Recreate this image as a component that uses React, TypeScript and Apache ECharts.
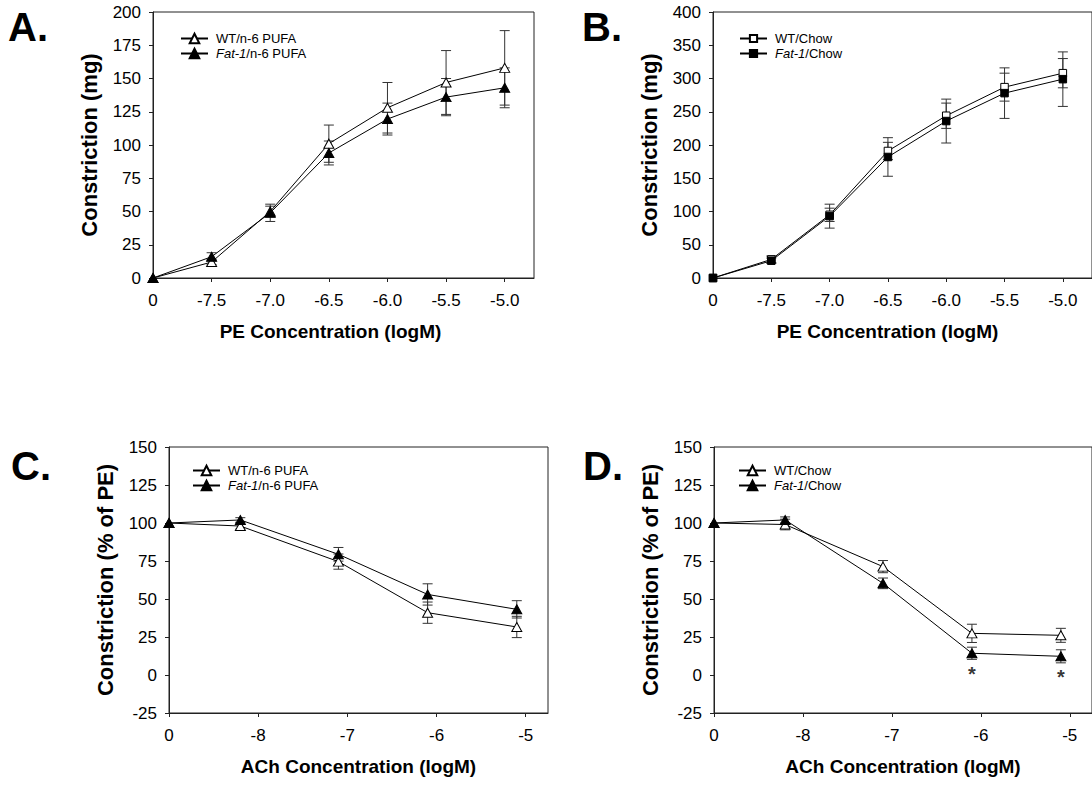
import React, { useEffect, useRef } from "react";
import * as echarts from "echarts";

// Dose positions on the log axes; the leftmost position is the zero-dose point.
const peX = [-8, -7.5, -7, -6.5, -6, -5.5, -5];
const peTickLabels = ["0", "-7.5", "-7.0", "-6.5", "-6.0", "-5.5", "-5.0"];
const achX = [-9, -8.2, -7.1, -6.1, -5.1];
const achTicks = [-9, -8, -7, -6, -5];
const achTickLabels = ["0", "-8", "-7", "-6", "-5"];

// A: PE, n-6 PUFA diet (mg)
const aWtMean = [0, 12, 50, 101, 128, 147, 158];
const aWtErr = [0, 2, 4, 14, 19, 24, 28];
const aFatMean = [0, 16, 49, 94, 119.5, 136, 143];
const aFatErr = [0, 3, 6.5, 9, 12, 14, 15];

// B: PE, chow diet (mg)
const bWtMean = [0, 28, 95, 191, 244, 287, 308];
const bWtErr = [0, 5, 10, 13, 19, 21, 22];
const bFatMean = [0, 26, 93, 182, 236, 278, 299];
const bFatErr = [0, 4, 18, 29, 33, 38, 41];

// C: ACh, n-6 PUFA diet (% of PE)
const cWtMean = [100, 98, 74.6, 41, 31.6];
const cWtErr = [0, 2, 5, 7, 7];
const cFatMean = [100, 102, 79.4, 53, 43.2];
const cFatErr = [0, 1.5, 4.5, 7, 5.7];

// D: ACh, chow diet (% of PE)
const dWtMean = [100, 99, 71.3, 27.4, 26.1];
const dWtErr = [0, 3.5, 4, 6, 4.6];
const dFatMean = [100, 102, 60.3, 14.3, 12.3];
const dFatErr = [0, 2, 3.5, 4, 4.3];
const dSignificant = [3, 4];

const FONT = '"Liberation Sans", Arial, Helvetica, sans-serif';
const AXIS_COLOR = "#222";
const ERR_COLOR = "#333";

type Panel = {
  key: string;
  grid: { left: number; top: number; width: number; height: number };
  x: number[];
  xMin: number;
  xMax: number;
  xInterval: number;
  xTicks: number[];
  xTickLabels: string[];
  yMin: number;
  yMax: number;
  yInterval: number;
  xName: string;
  xNameShift: number;
  yName: string;
  wtName: string;
  fatName: string;
  symbol: string;
  symbolSize: number | number[];
  legendIcon: number;
  wt: number[];
  wtErr: number[];
  fat: number[];
  fatErr: number[];
  legendLeft: number;
  legendTop: number;
};

const panels: Panel[] = [
  {
    key: "A",
    grid: { left: 153, top: 12, width: 381, height: 266 },
    x: peX,
    xMin: -8,
    xMax: -4.75,
    xInterval: 0.5,
    xTicks: peX,
    xTickLabels: peTickLabels,
    yMin: 0,
    yMax: 200,
    yInterval: 25,
    xName: "PE Concentration (logM)",
    xNameShift: 26,
    yName: "Constriction (mg)",
    wtName: "WT/n-6 PUFA",
    fatName: "Fat-1/n-6 PUFA",
    symbol: "triangle",
    symbolSize: [10, 9],
    legendIcon: 12,
    wt: aWtMean,
    wtErr: aWtErr,
    fat: aFatMean,
    fatErr: aFatErr,
    legendLeft: 180,
    legendTop: 32,
  },
  {
    key: "B",
    grid: { left: 713, top: 12, width: 380, height: 266 },
    x: peX,
    xMin: -8,
    xMax: -4.75,
    xInterval: 0.5,
    xTicks: peX,
    xTickLabels: peTickLabels,
    yMin: 0,
    yMax: 400,
    yInterval: 50,
    xName: "PE Concentration (logM)",
    xNameShift: 30,
    yName: "Constriction (mg)",
    wtName: "WT/Chow",
    fatName: "Fat-1/Chow",
    symbol: "rect",
    symbolSize: 7.5,
    legendIcon: 9,
    wt: bWtMean,
    wtErr: bWtErr,
    fat: bFatMean,
    fatErr: bFatErr,
    legendLeft: 739,
    legendTop: 32,
  },
  {
    key: "C",
    grid: { left: 169, top: 447, width: 379, height: 266 },
    x: achX,
    xMin: -9,
    xMax: -4.75,
    xInterval: 1,
    xTicks: achTicks,
    xTickLabels: achTickLabels,
    yMin: -25,
    yMax: 150,
    yInterval: 25,
    xName: "ACh Concentration (logM)",
    xNameShift: 0,
    yName: "Constriction (% of PE)",
    wtName: "WT/n-6 PUFA",
    fatName: "Fat-1/n-6 PUFA",
    symbol: "triangle",
    symbolSize: [10, 9],
    legendIcon: 12,
    wt: cWtMean,
    wtErr: cWtErr,
    fat: cFatMean,
    fatErr: cFatErr,
    legendLeft: 192,
    legendTop: 464,
  },
  {
    key: "D",
    grid: { left: 714, top: 447, width: 379, height: 266 },
    x: achX,
    xMin: -9,
    xMax: -4.75,
    xInterval: 1,
    xTicks: achTicks,
    xTickLabels: achTickLabels,
    yMin: -25,
    yMax: 150,
    yInterval: 25,
    xName: "ACh Concentration (logM)",
    xNameShift: 0,
    yName: "Constriction (% of PE)",
    wtName: "WT/Chow",
    fatName: "Fat-1/Chow",
    symbol: "triangle",
    symbolSize: [10, 9],
    legendIcon: 12,
    wt: dWtMean,
    wtErr: dWtErr,
    fat: dFatMean,
    fatErr: dFatErr,
    legendLeft: 738,
    legendTop: 464,
  },
];

const letterPos: Record<string, [number, number]> = {
  A: [8, 7],
  B: [582, 7],
  C: [11, 446],
  D: [583, 446],
};

function errorBarSeries(name: string, idx: number, x: number[], mean: number[], err: number[]) {
  return {
    type: "custom",
    name: name + "::err",
    xAxisIndex: idx,
    yAxisIndex: idx,
    z: 1,
    silent: true,
    data: x.map((xv, i) => [xv, mean[i], err[i]]),
    encode: { x: 0, y: 1 },
    renderItem: (_params: any, api: any) => {
      const xv = api.value(0);
      const yv = api.value(1);
      const e = api.value(2);
      if (!e) return { type: "group", children: [] };
      const top = api.coord([xv, yv + e]);
      const bot = api.coord([xv, yv - e]);
      const w = 5;
      const style = { stroke: ERR_COLOR, lineWidth: 1 };
      return {
        type: "group",
        children: [
          { type: "line", shape: { x1: top[0], y1: top[1], x2: bot[0], y2: bot[1] }, style },
          { type: "line", shape: { x1: top[0] - w, y1: top[1], x2: top[0] + w, y2: top[1] }, style },
          { type: "line", shape: { x1: bot[0] - w, y1: bot[1], x2: bot[0] + w, y2: bot[1] }, style },
        ],
      };
    },
  };
}

function lineSeries(name: string, idx: number, p: Panel, mean: number[], open: boolean) {
  return {
    type: "line",
    name,
    xAxisIndex: idx,
    yAxisIndex: idx,
    z: 3,
    data: p.x.map((xv, i) => [xv, mean[i]]),
    symbol: p.symbol,
    symbolSize: p.symbolSize,
    showAllSymbol: true,
    lineStyle: { color: "#000", width: 1 },
    itemStyle: open
      ? { color: "#fff", borderColor: "#000", borderWidth: 1 }
      : { color: "#000", borderColor: "#000", borderWidth: 1 },
    emphasis: { disabled: true },
  };
}

function buildOption() {
  const grid: any[] = [];
  const xAxis: any[] = [];
  const yAxis: any[] = [];
  const series: any[] = [];
  const legend: any[] = [];

  panels.forEach((p, idx) => {
    grid.push({
      ...p.grid,
      show: true,
      borderColor: AXIS_COLOR,
      borderWidth: 1,
      backgroundColor: "transparent",
      containLabel: false,
    });
    xAxis.push({
      type: "value",
      gridIndex: idx,
      min: p.xMin,
      max: p.xMax,
      interval: p.xInterval,
      splitLine: { show: false },
      axisLine: { show: true, onZero: false, lineStyle: { color: AXIS_COLOR, width: 1 } },
      axisTick: {
        show: true,
        inside: false,
        length: 4,
        lineStyle: { color: AXIS_COLOR },
        customValues: p.xTicks,
      },
      axisLabel: {
        show: true,
        margin: 14,
        color: "#000",
        fontFamily: FONT,
        fontSize: 17,
        customValues: p.xTicks,
        formatter: (v: number) => {
          const i = p.xTicks.findIndex((t) => Math.abs(t - v) < 1e-6);
          return i >= 0 ? p.xTickLabels[i] : "";
        },
      },
      name: p.xName,
      nameLocation: "middle",
      nameGap: 44,
      nameTextStyle: {
        color: "#000",
        fontFamily: FONT,
        fontSize: 19,
        fontWeight: "bold",
        padding: [0, p.xNameShift, 0, 0],
      },
    });
    yAxis.push({
      type: "value",
      gridIndex: idx,
      min: p.yMin,
      max: p.yMax,
      interval: p.yInterval,
      splitLine: { show: false },
      axisLine: { show: true, onZero: false, lineStyle: { color: AXIS_COLOR, width: 1 } },
      axisTick: { show: true, inside: false, length: 4, lineStyle: { color: AXIS_COLOR } },
      axisLabel: { margin: 12, color: "#000", fontFamily: FONT, fontSize: 17 },
      name: p.yName,
      nameLocation: "middle",
      nameGap: 53,
      nameTextStyle: { color: "#000", fontFamily: FONT, fontSize: 22, fontWeight: "bold" },
    });

    const wtName = p.key + "::" + p.wtName;
    const fatName = p.key + "::" + p.fatName;
    series.push(errorBarSeries(wtName, idx, p.x, p.wt, p.wtErr));
    series.push(errorBarSeries(fatName, idx, p.x, p.fat, p.fatErr));
    series.push(lineSeries(wtName, idx, p, p.wt, true));
    series.push(lineSeries(fatName, idx, p, p.fat, false));

    legend.push({
      data: [wtName, fatName],
      orient: "vertical",
      left: p.legendLeft,
      top: p.legendTop,
      itemWidth: 27,
      itemHeight: p.legendIcon,
      itemGap: 2,
      padding: 0,
      selectedMode: false,
      formatter: (name: string) => {
        const label = name.split("::")[1];
        if (label.startsWith("Fat-1")) {
          return "{i|Fat-1}{n|" + label.slice(5) + "}";
        }
        return "{n|" + label + "}";
      },
      textStyle: {
        color: "#000",
        fontFamily: FONT,
        fontSize: 13,
        padding: [0, 0, 0, 3],
        rich: {
          i: { fontStyle: "italic", fontFamily: FONT, fontSize: 13, color: "#000" },
          n: { fontFamily: FONT, fontSize: 13, color: "#000" },
        },
      },
    });
  });

  // Significance markers below the Fat-1 points in D
  const dIdx = 3;
  const dPanel = panels[dIdx];
  series.push({
    type: "scatter",
    name: "D::sig",
    xAxisIndex: dIdx,
    yAxisIndex: dIdx,
    z: 4,
    silent: true,
    symbol: "circle",
    symbolSize: 1,
    itemStyle: { color: "rgba(0,0,0,0)" },
    data: dSignificant.map((i) => [dPanel.x[i], dPanel.fat[i] - dPanel.fatErr[i]]),
    label: {
      show: true,
      formatter: "*",
      position: "bottom",
      distance: 4,
      color: "#000",
      fontFamily: FONT,
      fontSize: 20,
      fontWeight: "bold",
    },
  });

  const graphic = Object.keys(letterPos).map((k) => ({
    type: "text",
    x: letterPos[k][0],
    y: letterPos[k][1],
    silent: true,
    style: {
      text: k + ".",
      font: "bold 40px " + FONT,
      fill: "#000",
      verticalAlign: "top",
    },
  }));

  return {
    animation: false,
    backgroundColor: "#fff",
    grid,
    xAxis,
    yAxis,
    legend,
    series,
    graphic,
  };
}

export default function App() {
  const ref = useRef<HTMLDivElement>(null);
  useEffect(() => {
    if (!ref.current) return;
    const chart = echarts.init(ref.current, undefined, { renderer: "svg" });
    chart.setOption(buildOption() as any);
    return () => chart.dispose();
  }, []);
  return (
    <div
      ref={ref}
      style={{ position: "fixed", left: 0, top: 0, width: 1092, height: 788, background: "#fff" }}
    />
  );
}
